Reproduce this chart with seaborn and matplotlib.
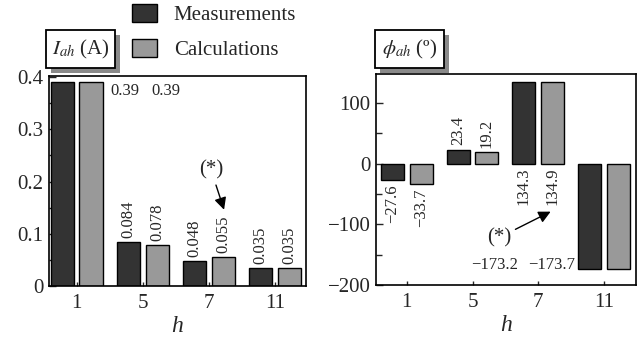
import matplotlib
matplotlib.use("Agg")
import matplotlib.pyplot as plt
import seaborn as sns
import pandas as pd
from matplotlib.ticker import MultipleLocator, FuncFormatter
from matplotlib.patches import Rectangle

# ---- data ----
harmonics = ["1", "5", "7", "11"]
series = ["Measurements", "Calculations"]
meas_I = [0.39, 0.084, 0.048, 0.035]
calc_I = [0.39, 0.078, 0.055, 0.035]
meas_phi = [-27.6, 23.4, 134.3, -173.2]
calc_phi = [-33.7, 19.2, 134.9, -173.7]
colors = ["#333333", "#999999"]

df_I = pd.DataFrame({"h": harmonics * 2,
                     "series": [series[0]] * 4 + [series[1]] * 4,
                     "value": meas_I + calc_I})
df_phi = pd.DataFrame({"h": harmonics * 2,
                       "series": [series[0]] * 4 + [series[1]] * 4,
                       "value": meas_phi + calc_phi})

sns.set_style("white")
plt.rcParams["font.family"] = ["Liberation Serif", "DejaVu Serif"]
plt.rcParams["mathtext.fontset"] = "stix"
plt.rcParams["axes.unicode_minus"] = True

W, H = 643, 339
fig = plt.figure(figsize=(6.43, 3.39), dpi=100)
ax1 = fig.add_axes([49 / W, 1 - 286 / H, 257 / W, 210 / H])
ax2 = fig.add_axes([376 / W, 1 - 285 / H, 260 / W, 211 / H])

for ax, df in ((ax1, df_I), (ax2, df_phi)):
    sns.barplot(data=df, x="h", y="value", hue="series", order=harmonics,
                hue_order=series, palette=colors, width=0.87, gap=0.19,
                edgecolor="black", linewidth=1.0, saturation=1, ax=ax,
                legend=(ax is ax1))

leg = ax1.get_legend()
handles = list(leg.legend_handles)
labels = [t.get_text() for t in leg.texts]
leg.remove()
for hd in handles:
    hd.set_edgecolor("black")
    hd.set_linewidth(1.0)
fig.legend(handles, labels, loc="upper left", bbox_to_anchor=(132 / W, 1 - 4 / H),
           frameon=False, fontsize=15, handlelength=1.2, handleheight=0.92,
           handletextpad=0.8, labelspacing=0.68, borderpad=0, borderaxespad=0)

def fmt(v, pos=None):
    return f"{v:g}".replace("-", "\u2212")

ax1.set_xlim(-0.42, 3.47)
ax1.set_ylim(0, 0.402)
ax1.yaxis.set_major_locator(MultipleLocator(0.1))
ax1.yaxis.set_minor_locator(MultipleLocator(0.05))
ax2.set_xlim(-0.47, 3.49)
ax2.set_ylim(-200, 148)
ax2.yaxis.set_major_locator(MultipleLocator(100))
ax2.yaxis.set_minor_locator(MultipleLocator(50))

for ax in (ax1, ax2):
    ax.yaxis.set_major_formatter(FuncFormatter(fmt))
    ax.set_ylabel("")
    ax.set_xlabel("h", fontsize=17, style="italic", labelpad=2)
    ax.tick_params(axis="y", which="major", direction="in", length=5, width=1,
                   labelsize=15, pad=4, left=True, right=False)
    ax.tick_params(axis="y", which="minor", direction="in", length=4, width=1,
                   left=True, right=False)
    ax.tick_params(axis="x", direction="in", length=3, width=1, labelsize=15,
                   pad=6, bottom=True, top=False)
    for s in ax.spines.values():
        s.set_visible(True)
        s.set_linewidth(1.2)
        s.set_color("black")

# ---- value labels ----
lab_fs = 12
def bar_centers(ax):
    return [[b.get_x() + b.get_width() / 2 for b in c] for c in ax.containers]

c1 = bar_centers(ax1)
vals1 = [meas_I, calc_I]
for k in range(2):
    for i in range(1, 4):
        ax1.annotate(fmt(vals1[k][i]), (c1[k][i], vals1[k][i]), xytext=(0, 3),
                     textcoords="offset points", rotation=90, ha="center",
                     va="bottom", fontsize=lab_fs)
ax1.text(0.73, 0.373, fmt(meas_I[0]), ha="center", va="center", fontsize=lab_fs)
ax1.text(1.35, 0.373, fmt(calc_I[0]), ha="center", va="center", fontsize=lab_fs)
ax1.annotate("(*)", xy=(2.23, 0.146), xytext=(2.03, 0.223), ha="center", va="center",
             fontsize=15,
             arrowprops=dict(arrowstyle="-|>", color="black", lw=1,
                             mutation_scale=18, shrinkA=2, shrinkB=0))

c2 = bar_centers(ax2)
vals2 = [meas_phi, calc_phi]
for k in range(2):
    v = vals2[k][0]
    ax2.annotate(fmt(v), (c2[k][0], v), xytext=(0, -3), textcoords="offset points",
                 rotation=90, ha="center", va="top", fontsize=lab_fs)
    v = vals2[k][1]
    ax2.annotate(fmt(v), (c2[k][1], v), xytext=(0, 3), textcoords="offset points",
                 rotation=90, ha="center", va="bottom", fontsize=lab_fs)
    v = vals2[k][2]
    ax2.annotate(fmt(v), (c2[k][2], 0), xytext=(0, -3), textcoords="offset points",
                 rotation=90, ha="center", va="top", fontsize=lab_fs)
ax2.text(1.34, -167, fmt(meas_phi[3]), ha="center", va="center", fontsize=lab_fs)
ax2.text(2.21, -167, fmt(calc_phi[3]), ha="center", va="center", fontsize=lab_fs)
ax2.annotate("(*)", xy=(2.19, -79), xytext=(1.40, -122), ha="center", va="center",
             fontsize=15,
             arrowprops=dict(arrowstyle="-|>", color="black", lw=1,
                             mutation_scale=18, shrinkA=1, shrinkB=0))

# ---- boxed titles with shadow ----
def boxed_title(x0, y0, x1, y1, s):
    w, h = (x1 - x0) / W, (y1 - y0) / H
    fig.patches.append(Rectangle((x0 / W + 5 / W, 1 - y1 / H - 5 / H), w, h,
                                 transform=fig.transFigure, fc="#8a8a8a",
                                 ec="none", zorder=1))
    fig.patches.append(Rectangle((x0 / W, 1 - y1 / H), w, h,
                                 transform=fig.transFigure, fc="white",
                                 ec="black", lw=1.3, zorder=2))
    fig.text((x0 + x1) / 2 / W, 1 - (y0 + y1) / 2 / H, s, ha="center",
             va="center", fontsize=15, zorder=3)

boxed_title(46, 30, 115, 68, r"$I_{ah}$ (A)")
boxed_title(375, 30, 444, 68, r"$\phi_{ah}$ (º)")

fig.savefig("out.png", dpi=100)
